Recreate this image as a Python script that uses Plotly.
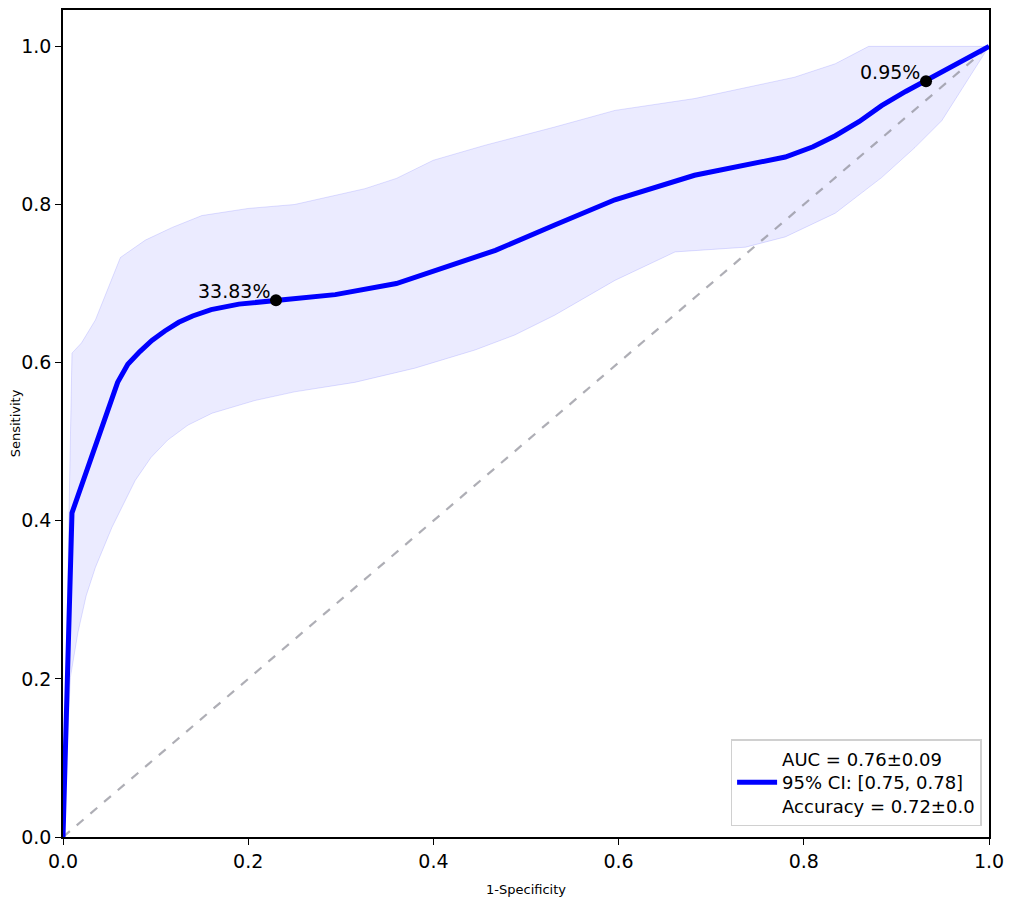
import plotly.graph_objects as go

# ROC curve (mean)
fpr = [0.0, 0.0097, 0.059, 0.07, 0.083, 0.096, 0.11, 0.125, 0.14, 0.16, 0.19, 0.23,
       0.294, 0.36, 0.423, 0.467, 0.531, 0.596, 0.682, 0.747, 0.78, 0.81, 0.834,
       0.86, 0.884, 0.91, 0.931, 0.965, 1.0]
tpr = [0.0, 0.41, 0.575, 0.598, 0.614, 0.628, 0.64, 0.651, 0.659, 0.667, 0.674, 0.679,
       0.686, 0.70, 0.724, 0.742, 0.774, 0.806, 0.837, 0.852, 0.86, 0.873, 0.887,
       0.905, 0.925, 0.943, 0.956, 0.978, 1.0]

# 95% CI band
upper_x = [0.0, 0.0097, 0.02, 0.035, 0.062, 0.089, 0.118, 0.15, 0.2, 0.25, 0.326,
           0.36, 0.40, 0.456, 0.531, 0.596, 0.682, 0.79, 0.834, 0.87, 1.0]
upper_y = [0.0, 0.612, 0.625, 0.654, 0.733, 0.755, 0.771, 0.786, 0.795, 0.80, 0.82,
           0.833, 0.856, 0.875, 0.898, 0.919, 0.934, 0.961, 0.978, 1.0, 1.0]
lower_x = [0.0, 0.002, 0.008, 0.016, 0.025, 0.035, 0.053, 0.078, 0.095, 0.113, 0.135,
           0.161, 0.207, 0.25, 0.315, 0.38, 0.445, 0.488, 0.531, 0.596, 0.661, 0.737,
           0.78, 0.834, 0.884, 0.92, 0.949, 1.0]
lower_y = [0.0, 0.05, 0.202, 0.258, 0.305, 0.341, 0.392, 0.451, 0.48, 0.502, 0.521,
           0.536, 0.552, 0.563, 0.575, 0.593, 0.616, 0.635, 0.66, 0.704, 0.74, 0.746,
           0.759, 0.789, 0.834, 0.872, 0.906, 1.0]

# highlighted thresholds
point_x = [0.23, 0.932]
point_y = [0.679, 0.956]
point_labels = ['33.83%', '0.95%']

legend_text = 'AUC = 0.76±0.09<br>95% CI: [0.75, 0.78]<br>Accuracy = 0.72±0.0'

font_main = 'DejaVu Sans'

fig = go.Figure()

fig.add_trace(go.Scatter(
    x=upper_x + lower_x[::-1],
    y=upper_y + lower_y[::-1],
    fill='toself',
    fillcolor='rgba(0, 0, 255, 0.08)',
    line=dict(color='rgba(0, 0, 255, 0.12)', width=1),
    mode='lines',
    showlegend=False,
    hoverinfo='skip'
))

fig.add_trace(go.Scatter(
    x=[0, 1], y=[0, 1],
    mode='lines',
    line=dict(color='rgba(140, 140, 150, 0.7)', width=2.2, dash='dash'),
    showlegend=False
))

fig.add_trace(go.Scatter(
    x=fpr, y=tpr,
    mode='lines',
    name=legend_text,
    line=dict(color='#0000ff', width=5)
))

fig.add_trace(go.Scatter(
    x=point_x, y=point_y,
    mode='markers',
    marker=dict(color='black', size=12),
    showlegend=False
))

for px_, py_, lab in zip(point_x, point_y, point_labels):
    fig.add_annotation(
        x=px_, y=py_, text=lab, showarrow=False,
        xanchor='right', yanchor='bottom', xshift=-4, yshift=-4,
        font=dict(size=19, color='black', family=font_main)
    )

axis_common = dict(
    showgrid=False, zeroline=False,
    showline=True, linecolor='black', linewidth=1.5, mirror=True,
    ticks='outside', ticklen=6, tickwidth=1.2, tickcolor='black',
    tickfont=dict(size=19, color='black', family=font_main),
    tickformat='.1f', dtick=0.2
)

fig.update_xaxes(range=[0, 1], title=dict(text='1-Specificity', font=dict(size=13, color='black'), standoff=14),
                 **axis_common)
fig.update_yaxes(range=[0, 1.046], title=dict(text='Sensitivity', font=dict(size=13, color='black'), standoff=18),
                 tickvals=[0, 0.2, 0.4, 0.6, 0.8, 1.0], **axis_common)

fig.update_layout(
    plot_bgcolor='white', paper_bgcolor='white',
    font=dict(family=font_main, color='black'),
    margin=dict(l=55, r=17, t=2, b=68, autoexpand=False),
    legend=dict(
        x=0.992, y=0.013, xanchor='right', yanchor='bottom',
        bgcolor='white', bordercolor='#d0d0d0', borderwidth=1.5,
        font=dict(size=18, family=font_main),
        itemwidth=40
    )
)

fig.write_html("out.html")
